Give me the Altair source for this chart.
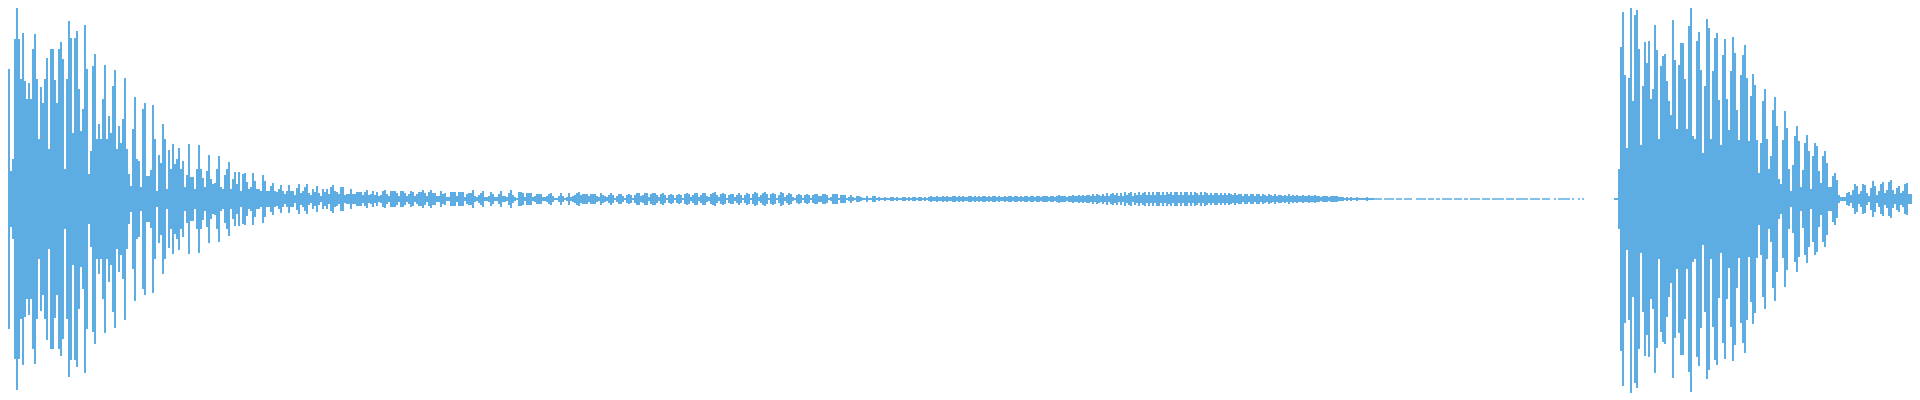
import altair as alt
import pandas as pd

attack_a = [78,186,120,196,130,28,40,160,191,160,120,166,118,100,116,100,150,165,120,60,
 112,96,120,141,50,150,150,119,96,150,157,140,30,120,178,161,66,161,168,110,
 68,90,174,130,25,48,133,145,60,75,60,100,134,60,83,66,113,129,50,73,
 56,80,121,50,25,13,70,102,40,38,12,90,96,23,23,29,94,60,8,44,
 36,75,60,10,49,30,55,35,40,51,30,38,12,24,55,22,22,10,30,54,
 30,21,12,28,44,20,15,16,30,43,12,10,24,30,37,10,20,27,15,27,
 8,25,26,17,10,12,26,18,10,10,8,24,18,8,8,13,16,8,7,10,
 14,8,5,8,14,8,8,4,11,15,6,8,12,15,6,4,10,7,13,6]

decay_a = [3,10,7,10,5,12,14,8,7,5,12,12,4,5,5,10,5,5,7,7,7,4,7,9,4,
 5,8,4,7,3,4,8,9,5,3,8,8,8,6,3,8,8,6,3,5,8,7,3,5,7,
 7,9,6,3,7,9,6,6,3,3,8,5,6,2,2,7,7,7,3,7,7,7,2,5,6,
 6,9,3,2,4,6,8,2,2,3,7,5,2,2,5,8,3,3,2,6,9,4,2,1,7,
 7,6,2,6,6,6,2,3,5,5,5,2,2,3,5,6,3,1,1,3,6,3,1,2,6]

beats = [2,3,4,6,7,4,5,5,5,3,5,5,5,3,2,6,4,3,2,4,6,4,1,3,5,
 5,3,1,4,5,4,1,4,6,6,3,4,6,6,2,5,6,6,4,2,5,6,4,1,4,
 5,4,1,4,5,4,1,5,6,5,2,4,6,6,2,4,6,6,3,2,5,6,7,4,2,
 5,6,5,1,4,5,5,2,4,6,4,1,4,6,5,1,5,7,6,2,4,6,7,5,1,
 5,6,5,1,4,7,6,2,4,6,5,2,1,4,5,4,1,4,5,4,1,4,5,5,3]

comb = [3,5,5,4,1,2,5,5,5,1,4,4,4,1,2,4,2,1,3,3,2,1,1,3,1,
 1,3,3,1,2,1,1,2,1,1,2,2,1,2,1,1,2,2,1,2,1,2,2,1,2,
 2,1,2,1,2,3,2,2,3,2,2,3,2,3,2,2,3,3,2,3,2,3,2,2,3,
 3,2,3,2,3,2,3,3,2,3,2,3,3,2,3,2,2,3,2,3,3,2,3,3,2,
 3,2,3,3,2,3,3,2,3,3,2,3,3,3,2,3,3,2,3,4,3,3,3,2,3,
 3,4,3,3,4,3,4,3,4,4,3,5,3,5,4,3,5,3,6,3,5,6,4,6,3,
 6,3,7,4,6,7,3,6,4,7,4,6,7,4,7,4,7,4,7,7,4,7,4,7,5,
 7,4,7,7,4,7,4,7,7,4,7,4,7,6,4,7,4,7,6,4,6,4,6,6,4,
 6,4,6,4,6,5,4,6,4,5,5,3,5,5,3,5,5,3,5,5,3,5,4,3,5,
 4,3,5,3,4,4,3,4,3,5,3,4,3,4,3,3,4,3,3,4,3,3,4,3,3]

tail = [2,3,3,3,2,3,3,3,3,2,2,2,1,2,1,2,1,1,2,1,
 1,1,1,2,1,1,1,.8,.8,.8,.8,0,.8,.8,.8,.8,.8,0,.8,.8,
 .8,0,.8,.8,.8,.8,0,0,.8,.8,.8,.8,.8,0,.8,.8,.8,0,.8,.8,
 0,.8,.8,.8,.8,.8,0,.8,.8,.8,.8,0,.8,.8,0,.8,.8,.8,.8,.8,
 0,.8,.8,.8,.8,0,.8,.8,.8,.8,.8,.8,0,.8,.8,.8,.8,0,.8,.8,
 .8,.8,.8,.8,0,.8,.8,.8,.8,.8,0,.8,.8,.8,.8,0,0,.8,0,.8,
 .8,.8,.8,.8,.8,0,.8,0,0,.8,0,.8,0,0,0,0,0,0,0,0]

attack_b = [0,0,0,0,0,0,0,1,1,30,152,187,124,51,121,194,98,184,189,150,
 54,113,157,136,158,100,110,174,149,60,133,143,145,118,98,84,179,139,70,134,
 156,156,120,70,173,193,63,60,158,167,129,46,113,180,171,60,128,161,166,99,
 54,144,160,100,69,128,162,146,89,59,124,144,154,121,58,103,125,114,59,26,
 56,98,110,60,30,43,89,102,73,20,15,59,88,71,30,8,34,63,73,58,
 12,29,56,64,48,10,43,56,53,28,16,43,48,36,12,12,23,26,19,4,
 2,2,2,6,7,4,9,15,13,5,8,15,14,6,3,11,18,13,4,8,
 15,17,6,9,17,19,9,5,11,13,6,8,15,16,5,5,10,11,6,6]

amp = attack_a + decay_a + beats + comb + tail + attack_b
amp = amp + amp[-1:]
df = pd.DataFrame({"i": range(len(amp)), "amp": amp})
df["low"] = -df["amp"]

chart = (
    alt.Chart(df)
    .mark_area(color="#5DADE2", interpolate="step-after", opacity=1, clip=True)
    .encode(
        x=alt.X("i:Q", scale=alt.Scale(domain=[4, 956], nice=False, zero=False), axis=None),
        y=alt.Y("amp:Q", scale=alt.Scale(domain=[-201, 191], nice=False), axis=None),
        y2="low:Q",
    )
    .properties(width=1904, height=392, padding=0)
    .configure_view(stroke=None)
)
chart.save("out.html", embed_options={"renderer": "svg", "actions": False})
